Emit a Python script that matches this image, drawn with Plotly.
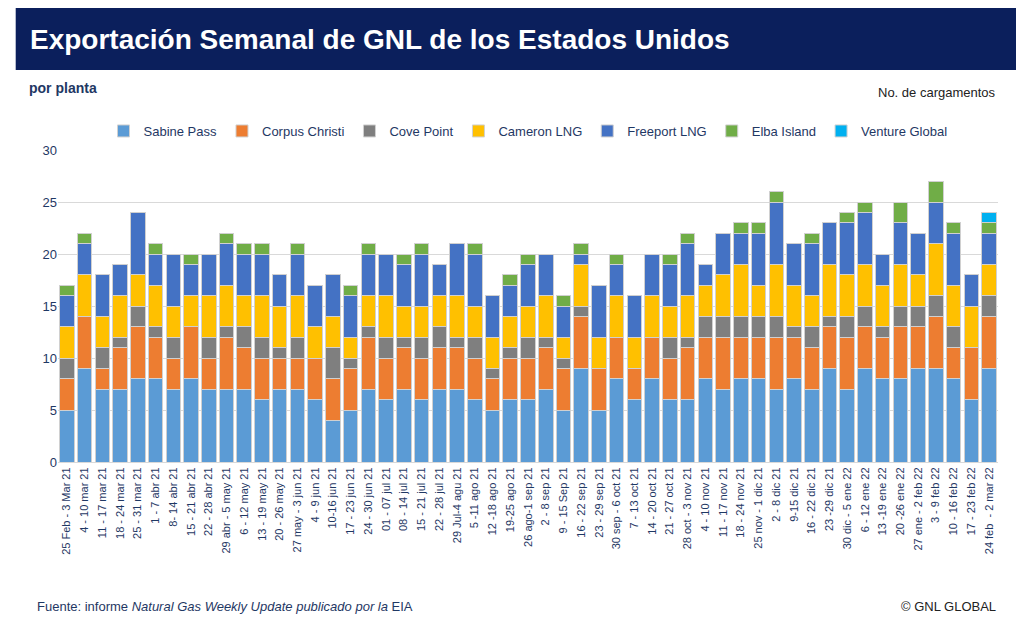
import plotly.graph_objects as go

# Semanas (etiquetas del eje x)
semanas = [
    "25 Feb - 3 Mar 21", "4 - 10 mar 21", "11 - 17 mar 21", "18 - 24 mar 21", "25 - 31 mar 21",
    "1 - 7 abr 21", "8- 14 abr 21", "15 - 21 abr 21", "22 - 28 abr 21", "29 abr - 5 may 21",
    "6 - 12 may 21", "13 - 19 may 21", "20 - 26 may 21", "27 may - 3 jun 21", "4 - 9 jun 21",
    "10-16 jun 21", "17 - 23 jun 21", "24 - 30 jun 21", "01 - 07 jul 21", "08 - 14 jul 21",
    "15 - 21 jul 21", "22 - 28 jul 21", "29 Jul-4 agu 21", "5 -11 ago 21", "12 -18 ago 21",
    "19-25 ago 21", "26 ago-1 sep 21", "2 - 8 sep 21", "9 - 15 Sep 21", "16 - 22 sep 21",
    "23 - 29 sep 21", "30 sep - 6 oct 21", "7 - 13 oct 21", "14 - 20 oct 21", "21 - 27 oct 21",
    "28 oct - 3 nov 21", "4 - 10 nov 21", "11 - 17 nov 21", "18 - 24 nov 21", "25 nov - 1 dic 21",
    "2 - 8 dic 21", "9-15 dic 21", "16 - 22 dic 21", "23 -29 dic 21", "30 dic - 5 ene 22",
    "6 - 12 ene 22", "13 -19 ene 22", "20 -26 ene 22", "27 ene - 2 feb 22", "3 - 9 feb 22",
    "10 - 16 feb 22", "17 - 23 feb 22", "24 feb  - 2 mar 22",
]

# Cargamentos por planta
sabine_pass = [5, 9, 7, 7, 8, 8, 7, 8, 7, 7, 7, 6, 7, 7, 6, 4, 5, 7, 6, 7,
               6, 7, 7, 6, 5, 6, 6, 7, 5, 9, 5, 8, 6, 8, 6, 6, 8, 7, 8, 8,
               7, 8, 7, 9, 7, 9, 8, 8, 9, 9, 8, 6, 9]
corpus_christi = [3, 5, 2, 4, 5, 4, 3, 5, 3, 5, 4, 4, 3, 3, 4, 4, 4, 5, 4, 4,
                  4, 4, 4, 4, 3, 4, 4, 4, 4, 5, 4, 4, 3, 4, 4, 5, 4, 5, 4, 4,
                  5, 4, 4, 4, 5, 4, 4, 5, 4, 5, 3, 5, 5]
cove_point = [2, 0, 2, 1, 2, 1, 2, 0, 2, 1, 2, 2, 1, 2, 0, 3, 1, 1, 2, 1,
              2, 2, 1, 2, 1, 1, 2, 1, 1, 1, 0, 0, 0, 0, 2, 1, 2, 2, 2, 2,
              2, 1, 2, 1, 2, 2, 1, 2, 2, 2, 2, 0, 2]
cameron_lng = [3, 4, 3, 4, 3, 4, 3, 3, 4, 4, 3, 4, 4, 4, 3, 3, 2, 3, 4, 3,
               3, 3, 4, 3, 3, 3, 3, 4, 2, 4, 3, 4, 3, 4, 3, 4, 3, 4, 5, 3,
               5, 4, 3, 5, 4, 4, 4, 4, 3, 5, 4, 4, 3]
freeport_lng = [3, 3, 4, 3, 6, 3, 5, 3, 4, 4, 4, 4, 3, 4, 4, 4, 4, 4, 4, 4,
                5, 3, 5, 5, 4, 3, 4, 4, 3, 1, 5, 3, 4, 4, 4, 5, 2, 4, 3, 5,
                6, 4, 5, 4, 5, 5, 3, 4, 4, 4, 5, 3, 3]
elba_island = [1, 1, 0, 0, 0, 1, 0, 1, 0, 1, 1, 1, 0, 1, 0, 0, 1, 1, 0, 1,
               1, 0, 0, 1, 0, 1, 1, 0, 1, 1, 0, 1, 0, 0, 1, 1, 0, 0, 1, 1,
               1, 0, 1, 0, 1, 1, 0, 2, 0, 2, 1, 0, 1]
venture_global = [0] * 52 + [1]

series = [
    ("Sabine Pass", sabine_pass, "#5B9BD5"),
    ("Corpus Christi", corpus_christi, "#ED7D31"),
    ("Cove Point", cove_point, "#7F7F7F"),
    ("Cameron LNG", cameron_lng, "#FFC000"),
    ("Freeport LNG", freeport_lng, "#4472C4"),
    ("Elba Island", elba_island, "#70AD47"),
    ("Venture Global", venture_global, "#00B0F0"),
]

navy = "#1F3864"
H = 312  # alto del área de trazado en px


def py(pix):
    # posición vertical en coordenadas de papel a partir del pixel de la página
    return (462 - pix) / H


fig = go.Figure()
for nombre, valores, color in series:
    fig.add_trace(go.Bar(x=semanas, y=valores, name=nombre,
                         marker=dict(color=color, line=dict(color="#D0D0D0", width=1))))

fig.update_layout(
    barmode="stack", bargap=0.18,
    width=1024, height=631,
    margin=dict(l=50, r=34, t=142, b=177),
    paper_bgcolor="white", plot_bgcolor="white",
    font=dict(family="Liberation Sans, Arial", color=navy),
    legend=dict(orientation="h", x=0.5, xanchor="center", y=py(131), yanchor="middle",
                font=dict(size=13, color="#1F3864"), traceorder="normal"),
    xaxis=dict(tickangle=-90, tickfont=dict(size=11, color=navy), showgrid=False,
               linecolor="#D9D9D9"),
    yaxis=dict(range=[0, 30], dtick=5, gridcolor="#D9D9D9", tickfont=dict(size=13, color=navy),
               zeroline=False),
    shapes=[
        dict(type="rect", xref="paper", yref="paper", x0=-0.045, x1=1.03,
             y0=py(70), y1=py(8), fillcolor="#0B1F5C", line=dict(width=0), layer="below"),
    ],
    annotations=[
        dict(text="<b>Exportación Semanal de GNL de los Estados Unidos</b>", xref="paper", yref="paper",
             x=-0.032, y=py(40), xanchor="left", yanchor="middle", showarrow=False,
             font=dict(size=28, color="white", family="Liberation Sans, Arial")),
        dict(text="<b>por planta</b>", xref="paper", yref="paper", x=-0.033, y=py(88),
             xanchor="left", yanchor="middle", showarrow=False, font=dict(size=14, color=navy)),
        dict(text="No. de cargamentos", xref="paper", yref="paper", x=1.0, y=py(92),
             xanchor="right", yanchor="middle", showarrow=False, font=dict(size=13, color="#222222")),
        dict(text="Fuente: informe <i>Natural Gas Weekly Update publicado por la</i> EIA", xref="paper",
             yref="paper", x=-0.025, y=py(606), xanchor="left", yanchor="middle",
             showarrow=False, font=dict(size=13, color=navy)),
        dict(text="© GNL GLOBAL", xref="paper", yref="paper", x=1.0, y=py(606),
             xanchor="right", yanchor="middle", showarrow=False, font=dict(size=13, color="#222222")),
    ],
)

fig.write_html("out.html")
